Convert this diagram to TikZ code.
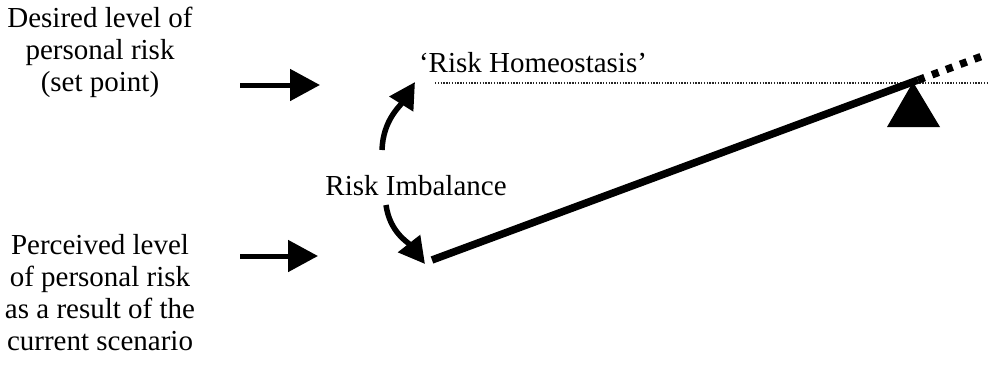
\documentclass[tikz,border=0pt]{standalone}
\usepackage{fontspec}
\setmainfont{Liberation Serif}
\usetikzlibrary{arrows.meta}
\begin{document}
\begin{tikzpicture}[x=1pt,y=-1pt,
  txt/.style={inner sep=0pt,font=\fontsize{29}{32}\selectfont,align=center},
  feed/.style={line width=5pt,-{Triangle[length=30pt,width=31pt]}},
  curvearrow/.style={line width=5.5pt,-{Triangle[length=26pt,width=27pt]}},
  lever/.style={line width=7.5pt},
  fulcrum/.style={fill=black}]
\useasboundingbox (0,0) rectangle (988,370);
% input labels
\node[txt] (desired) at (100,52) {Desired level of\\personal risk\\(set point)};
\node[txt] (perceived) at (100,293) {Perceived level\\of personal risk\\as a result of the\\current scenario};
% short feed arrows
\coordinate (d0) at (240,85);
\coordinate (d1) at (320,85);
\coordinate (p0) at (240,256);
\coordinate (p1) at (318,256);
\draw[feed] (d0) -- (d1);
\draw[feed] (p0) -- (p1);
% set point line and label
\node[txt,anchor=base] (homeo) at (533,72) {‘Risk Homeostasis’};
\coordinate (h0) at (435,83);
\coordinate (h1) at (988,83);
\draw[line width=1.4pt,dash pattern=on 1.4pt off 1.4pt,black!85] (h0) -- (h1);
% imbalance label with its two curved arrows
\node[txt,anchor=base] (imb) at (416,195) {Risk Imbalance};
\coordinate (u0) at (382,150);
\coordinate (u1) at (415,82);
\coordinate (w0) at (386,205);
\coordinate (w1) at (425,264);
\draw[curvearrow] (u0) to[out=88,in=238] (u1);
\draw[curvearrow] (w0) to[out=-82,in=128] (w1);
% lever on its fulcrum
\coordinate (l0) at (432,260);
\coordinate (l1) at (918,80);
\coordinate (l2) at (988,54);
\draw[lever] (l0) -- (l1);
\draw[lever,dash pattern=on 7pt off 8pt] (l1) -- (l2);
\coordinate (f0) at (913,82);
\coordinate (f1) at (940,127);
\coordinate (f2) at (887,127);
\fill[fulcrum] (f0) -- (f1) -- (f2) -- cycle;
\end{tikzpicture}
\end{document}
